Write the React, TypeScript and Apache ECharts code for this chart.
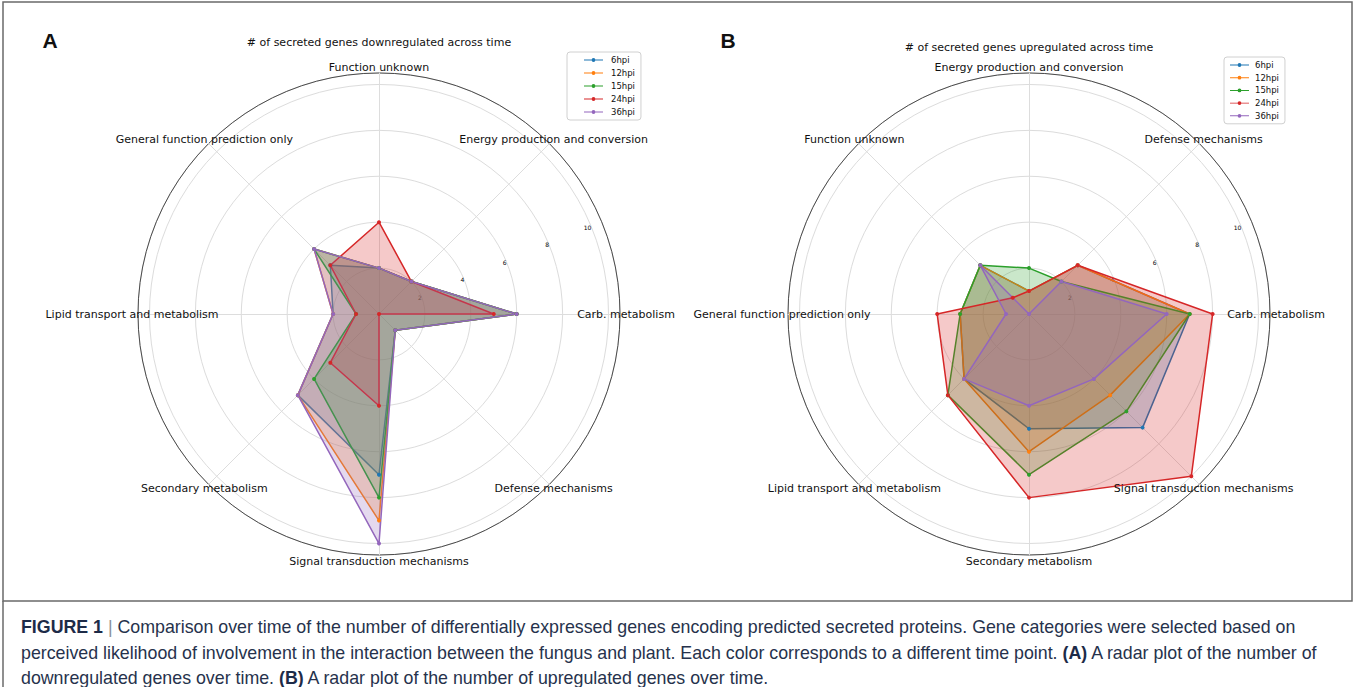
import React, { useEffect, useRef } from 'react';
import * as echarts from 'echarts';

// ---------- data ----------
const SERIES_NAMES = ['6hpi', '12hpi', '15hpi', '24hpi', '36hpi'];
const SERIES_COLORS = ['#1f77b4', '#ff7f0e', '#2ca02c', '#d62728', '#9467bd'];

// Panel A: categories listed clockwise starting at the top
const CATEGORIES_DOWN = [
  'Function unknown',
  'Energy production and conversion',
  'Carb. metabolism',
  'Defense mechanisms',
  'Signal transduction mechanisms',
  'Secondary metabolism',
  'Lipid transport and metabolism',
  'General function prediction only',
];
const DOWN_6HPI = [2, 2, 6, 1, 7, 5, 2, 3];
const DOWN_12HPI = [2, 2, 6, 1, 9, 5, 2, 4];
const DOWN_15HPI = [2, 2, 6, 1, 8, 4, 1, 4];
const DOWN_24HPI = [4, 2, 5, 0, 4, 3, 1, 3];
const DOWN_36HPI = [2, 2, 6, 1, 10, 5, 2, 4];

// Panel B: categories listed clockwise starting at the top
const CATEGORIES_UP = [
  'Energy production and conversion',
  'Defense mechanisms',
  'Carb. metabolism',
  'Signal transduction mechanisms',
  'Secondary metabolism',
  'Lipid transport and metabolism',
  'General function prediction only',
  'Function unknown',
];
const UP_6HPI = [1, 3, 7, 7, 5, 4, 3, 3];
const UP_12HPI = [1, 3, 7, 5, 6, 4, 3, 3];
const UP_15HPI = [2, 2, 7, 6, 7, 5, 3, 3];
const UP_24HPI = [1, 3, 8, 10, 8, 5, 4, 1];
const UP_36HPI = [0, 2, 6, 4, 4, 4, 1, 3];

const RADIAL_TICKS = [2, 4, 6, 8, 10];
const R_MAX = 10.5;

const TITLE_A = '# of secreted genes downregulated across time';
const TITLE_B = '# of secreted genes upregulated across time';

const CAPTION_LINES = [
  '{b|FIGURE 1}{bar| | }{n|Comparison over time of the number of differentially expressed genes encoding predicted secreted proteins. Gene categories were selected based on}',
  '{n|perceived likelihood of involvement in the interaction between the fungus and plant. Each color corresponds to a different time point. }{b|(A)}{n| A radar plot of the number of}',
  '{n|downregulated genes over time. }{b|(B)}{n| A radar plot of the number of upregulated genes over time.}',
];

// ---------- layout ----------
const CENTER_A: [number, number] = [379, 314];
const CENTER_B: [number, number] = [1029, 314];
const RADIUS = 241;
const LABEL_R = 247;
const CAPTION_Y = [627, 653, 678];

// ECharts places radar indicators counter-clockwise; convert clockwise lists
const ccw = <T,>(arr: T[]): T[] => [arr[0], ...arr.slice(1).reverse()];

const LEGEND_ICON =
  'path://M0,2H20V3H0Z M8,2.5A2,2 0 1 1 12,2.5A2,2 0 1 1 8,2.5Z';

function buildRadarPanel(
  idx: number,
  center: [number, number],
  cats: string[],
  sets: number[][]
) {
  const radar = {
    center,
    radius: RADIUS,
    startAngle: 90,
    shape: 'circle',
    splitNumber: 1,
    indicator: ccw(cats).map((name) => ({ name, min: 0, max: R_MAX })),
    axisName: { show: false },
    splitArea: { show: false },
    splitLine: { lineStyle: { color: '#4a4a4a', width: 1 } },
    axisLine: { lineStyle: { color: '#dddddd', width: 1 } },
    axisTick: { show: false },
    axisLabel: { show: false },
    z: 3,
  };
  const polar = { center, radius: RADIUS };
  const angleAxis = {
    polarIndex: idx,
    type: 'value',
    min: 0,
    max: 360,
    startAngle: 22.5,
    show: false,
  };
  const radiusAxis = {
    polarIndex: idx,
    type: 'value',
    min: 0,
    max: R_MAX,
    interval: 2,
    axisLine: { show: false },
    axisTick: { show: false },
    splitLine: { show: true, lineStyle: { color: '#dcdcdc', width: 1 } },
    axisLabel: {
      show: true,
      fontSize: 6,
      color: '#000000',
      fontFamily: 'DejaVu Sans',
      margin: -1,
      formatter: (v: number) => (RADIAL_TICKS.indexOf(v) >= 0 ? String(v) : ''),
    },
  };
  const series = {
    type: 'radar',
    radarIndex: idx,
    symbol: 'circle',
    symbolSize: 4,
    z: 4,
    data: sets.map((vals, i) => ({
      name: SERIES_NAMES[i],
      value: ccw(vals),
      itemStyle: { color: SERIES_COLORS[i] },
      lineStyle: { color: SERIES_COLORS[i], width: 1.5 },
      areaStyle: { color: SERIES_COLORS[i], opacity: 0.25 },
    })),
  };
  const labels = cats.map((name, i) => {
    const th = (i * 2 * Math.PI) / cats.length;
    return {
      type: 'text',
      x: center[0] + LABEL_R * Math.sin(th),
      y: center[1] - LABEL_R * Math.cos(th),
      z: 10,
      style: {
        text: name,
        fontSize: 11,
        fontFamily: 'DejaVu Sans',
        fill: '#111',
        textAlign: 'center',
        textVerticalAlign: 'middle',
      },
    };
  });
  return { radar, polar, angleAxis, radiusAxis, series, labels };
}

const App: React.FC = () => {
  const ref = useRef<HTMLDivElement>(null);

  useEffect(() => {
    if (!ref.current) return;
    const chart = echarts.init(ref.current, undefined, { renderer: 'svg' });

    const A = buildRadarPanel(0, CENTER_A, CATEGORIES_DOWN, [
      DOWN_6HPI, DOWN_12HPI, DOWN_15HPI, DOWN_24HPI, DOWN_36HPI,
    ]);
    const B = buildRadarPanel(1, CENTER_B, CATEGORIES_UP, [
      UP_6HPI, UP_12HPI, UP_15HPI, UP_24HPI, UP_36HPI,
    ]);

    const legendData = SERIES_NAMES.map((name, i) => ({
      name,
      itemStyle: { color: SERIES_COLORS[i] },
    }));
    const legendBase = {
      orient: 'vertical',
      selectedMode: false,
      icon: LEGEND_ICON,
      itemHeight: 5,
      borderColor: '#d0d0d0',
      borderWidth: 1,
      borderRadius: 3,
      backgroundColor: 'rgba(255,255,255,0.85)',
      data: legendData,
    };

    const FS = 17.8;
    const LH = 16;
    const captionRich = {
      b: { fontSize: FS, fontWeight: 'bold', fontFamily: 'Liberation Sans', fill: '#1d2b48', lineHeight: LH },
      n: { fontSize: FS, fontFamily: 'Liberation Sans', fill: '#26324c', lineHeight: LH },
      bar: { fontSize: FS, fontFamily: 'Liberation Sans', fill: '#8a8f99', lineHeight: LH },
    };
    const captionTexts = CAPTION_LINES.map((line, i) => ({
      type: 'text',
      x: 21,
      y: CAPTION_Y[i],
      style: { text: line, rich: captionRich, textAlign: 'left', textVerticalAlign: 'middle' },
    }));

    const option: any = {
      animation: false,
      backgroundColor: '#ffffff',
      polar: [A.polar, B.polar],
      angleAxis: [A.angleAxis, B.angleAxis],
      radiusAxis: [A.radiusAxis, B.radiusAxis],
      radar: [A.radar, B.radar],
      legend: [
        {
          ...legendBase,
          left: 567,
          top: 52,
          padding: [3, 6, 3, 17],
          itemWidth: 19,
          itemGap: 3,
          textStyle: { fontSize: 8.5, fontFamily: 'DejaVu Sans', color: '#111', lineHeight: 10, padding: [0, 0, 0, 3] },
        },
        {
          ...legendBase,
          left: 1224,
          top: 57,
          padding: [3, 6, 3, 6],
          itemWidth: 19,
          itemGap: 2.7,
          textStyle: { fontSize: 8.5, fontFamily: 'DejaVu Sans', color: '#111', lineHeight: 10, padding: [0, 0, 0, 1] },
        },
      ],
      series: [A.series, B.series],
      graphic: [
        {
          type: 'rect',
          shape: { x: 3, y: 2, width: 1349, height: 599 },
          style: { fill: 'none', stroke: '#6a6a6a', lineWidth: 1.5 },
          silent: true,
          z: 0,
        },
        {
          type: 'line',
          shape: { x1: 3, y1: 601, x2: 3, y2: 687 },
          style: { stroke: '#6a6a6a', lineWidth: 1.5 },
          silent: true,
        },
        {
          type: 'text',
          x: 50, y: 40,
          style: { text: 'A', fontSize: 21, fontWeight: 'bold', fontFamily: 'Liberation Sans', fill: '#111', textAlign: 'center', textVerticalAlign: 'middle' },
        },
        {
          type: 'text',
          x: 728, y: 40,
          style: { text: 'B', fontSize: 21, fontWeight: 'bold', fontFamily: 'Liberation Sans', fill: '#111', textAlign: 'center', textVerticalAlign: 'middle' },
        },
        {
          type: 'text',
          x: CENTER_A[0], y: 42,
          style: { text: TITLE_A, fontSize: 11, fontFamily: 'DejaVu Sans', fill: '#111', textAlign: 'center', textVerticalAlign: 'middle' },
        },
        {
          type: 'text',
          x: CENTER_B[0], y: 47,
          style: { text: TITLE_B, fontSize: 11, fontFamily: 'DejaVu Sans', fill: '#111', textAlign: 'center', textVerticalAlign: 'middle' },
        },
        ...A.labels,
        ...B.labels,
        ...captionTexts,
      ],
    };

    chart.setOption(option);
    return () => chart.dispose();
  }, []);

  return (
    <div
      ref={ref}
      style={{ position: 'absolute', left: 0, top: 0, width: 1355, height: 687, background: '#fff' }}
    />
  );
};

export default App;
